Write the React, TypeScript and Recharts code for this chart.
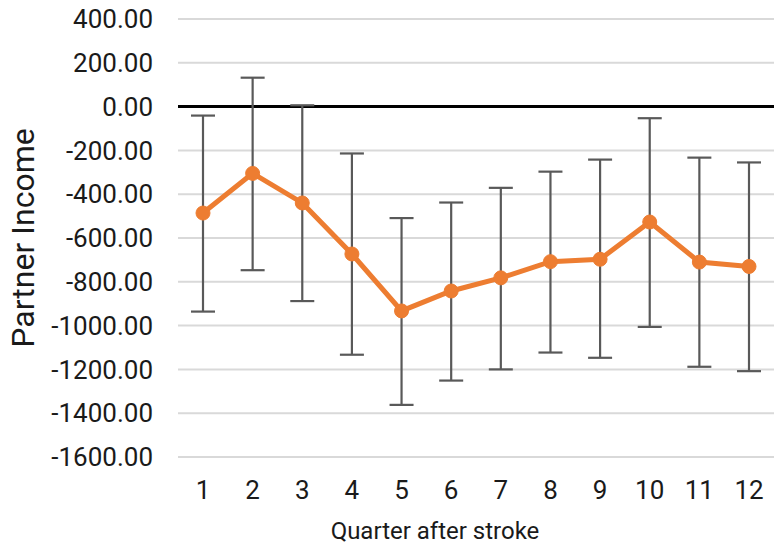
import React from "react";
import {
  LineChart,
  Line,
  XAxis,
  YAxis,
  CartesianGrid,
  ReferenceLine,
  ErrorBar,
  Label,
} from "recharts";

const quarters = ["1", "2", "3", "4", "5", "6", "7", "8", "9", "10", "11", "12"];
const income = [-486, -305, -440, -673, -933, -842, -782, -708, -697, -527, -710, -730];
const upperCI = [-41, 132, 6, -214, -509, -438, -371, -297, -242, -53, -233, -255];
const lowerCI = [-936, -747, -888, -1133, -1362, -1251, -1200, -1123, -1147, -1006, -1188, -1208];
const yTicks = [400, 200, 0, -200, -400, -600, -800, -1000, -1200, -1400, -1600];

const data = quarters.map((q, i) => ({
  quarter: q,
  income: income[i],
  // [below, above] distances for the error bar
  err: [income[i] - lowerCI[i], upperCI[i] - income[i]],
}));

const FONT = "Roboto, 'DejaVu Sans', sans-serif";

export default function App() {
  return (
    <div style={{ width: 774, height: 548, fontFamily: FONT }}>
      <style>{`body { margin: 0; }`}</style>
      <LineChart
        width={774}
        height={548}
        data={data}
        margin={{ top: 19, right: 0, bottom: 0, left: 0 }}
      >
        <CartesianGrid vertical={false} stroke="#d9d9d9" strokeWidth={2} />
        <XAxis
          dataKey="quarter"
          height={91}
          axisLine={false}
          tickLine={false}
          tickSize={0}
          tickMargin={24}
          padding={{ left: 25, right: 25 }}
          tick={{ fontSize: 26, fill: "#1a1a1a", fontFamily: FONT }}
        >
          <Label
            value="Quarter after stroke"
            position="insideBottom"
            offset={9}
            dx={-41}
            style={{ fontSize: 24, fill: "#1a1a1a", fontFamily: FONT }}
          />
        </XAxis>
        <YAxis
          width={178}
          domain={[-1600, 400]}
          ticks={yTicks}
          interval={0}
          axisLine={false}
          tickLine={false}
          tickSize={0}
          tickMargin={25}
          tickFormatter={(v: number) => v.toFixed(2)}
          tick={{ fontSize: 26, fill: "#1a1a1a", fontFamily: FONT }}
        >
          <Label
            value="Partner Income"
            angle={-90}
            position="insideLeft"
            offset={23}
            style={{ fontSize: 32, fill: "#1a1a1a", fontFamily: FONT, textAnchor: "middle" }}
          />
        </YAxis>
        <ReferenceLine y={0} stroke="#000" strokeWidth={3} />
        <Line
          type="linear"
          dataKey="income"
          stroke="#ED7D31"
          strokeWidth={5}
          dot={{ r: 7, fill: "#ED7D31", stroke: "#ED7D31", strokeWidth: 1 }}
          activeDot={false}
          isAnimationActive={false}
        >
          <ErrorBar dataKey="err" width={12} stroke="#595959" strokeWidth={2.2} direction="y" />
        </Line>
      </LineChart>
    </div>
  );
}
